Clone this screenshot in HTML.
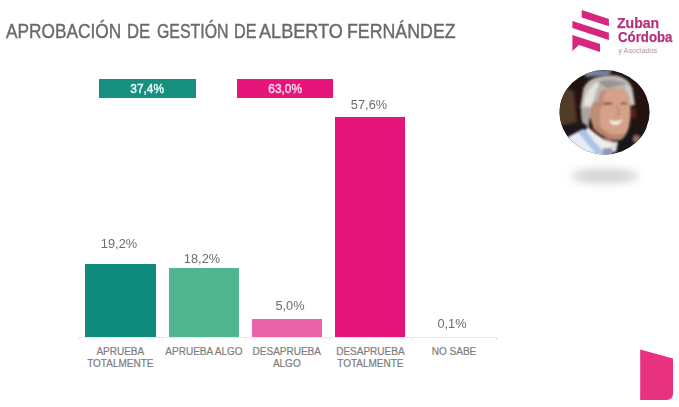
<!DOCTYPE html>
<html><head><meta charset="utf-8">
<style>
html,body{margin:0;padding:0;background:#fff;}
body{width:679px;height:407px;position:relative;overflow:hidden;font-family:"Liberation Sans",sans-serif;}
.abs{position:absolute;}
.bar{position:absolute;}
.val{position:absolute;width:80px;margin-left:-40px;text-align:center;font-size:13.2px;color:#6c6c6c;line-height:14px;margin-top:1px;transform:scaleX(0.97);}
.cat{position:absolute;width:100px;margin-left:-50px;text-align:center;font-size:10px;color:#7d7d7d;line-height:12px;top:346.4px;-webkit-text-stroke:0.2px #7d7d7d;}
.leg{position:absolute;height:19px;top:79px;font-size:12.8px;line-height:19.6px;text-align:center;-webkit-text-stroke:0.45px currentColor;}
.lt{font-size:15.4px;line-height:14px;font-weight:bold;color:#b5317e;-webkit-text-stroke:0.25px #b5317e;white-space:nowrap;transform-origin:0 0;}
.tw{top:20.4px;font-size:19.5px;color:#6a6a6a;white-space:nowrap;line-height:22px;transform-origin:0 0;-webkit-text-stroke:0.4px #6a6a6a;}
.ls{display:inline-block;transform:scaleX(0.93);position:relative;top:-0.4px;}
</style></head><body>
<div class="abs tw" style="left:6.2px;transform:scaleX(0.8853);">APROBACIÓN</div>
<div class="abs tw" style="left:127.29px;transform:scaleX(0.8567);">DE</div>
<div class="abs tw" style="left:157.05px;transform:scaleX(0.8152);">GESTIÓN</div>
<div class="abs tw" style="left:234.03px;transform:scaleX(0.8324);">DE</div>
<div class="abs tw" style="left:259.0px;transform:scaleX(0.9288);">ALBERTO</div>
<div class="abs tw" style="left:346.71px;transform:scaleX(0.9112);">FERNÁNDEZ</div>

<div class="leg" style="left:99px;width:97px;background:#168f7f;color:#e4fbf6;"><span class="ls">37,4%</span></div>
<div class="leg" style="left:237px;width:95.5px;background:#e5157a;color:#fcd3e8;"><span class="ls">63,0%</span></div>

<div class="bar" style="left:85.3px;top:264px;width:70.3px;height:73.5px;background:#0e8b7c;"></div>
<div class="bar" style="left:169px;top:268.4px;width:70.2px;height:69.1px;background:#52b591;"></div>
<div class="bar" style="left:252px;top:318.7px;width:70.2px;height:18.8px;background:#ea62a8;"></div>
<div class="bar" style="left:335.3px;top:117.2px;width:70px;height:220.3px;background:#e6157b;"></div>
<div class="bar" style="left:418.6px;top:336.8px;width:70.7px;height:1.5px;background:#cdcdcd;"></div>

<div class="abs" style="left:78px;top:337px;width:419px;height:1px;background:#e9e9e9;"></div>
<div class="abs" style="left:78px;top:337px;width:1px;height:3px;background:#e4e4e4;"></div>
<div class="abs" style="left:162px;top:337px;width:1px;height:3px;background:#e4e4e4;"></div>
<div class="abs" style="left:245px;top:337px;width:1px;height:3px;background:#e4e4e4;"></div>
<div class="abs" style="left:329px;top:337px;width:1px;height:3px;background:#e4e4e4;"></div>
<div class="abs" style="left:412px;top:337px;width:1px;height:3px;background:#e4e4e4;"></div>
<div class="abs" style="left:496px;top:337px;width:1px;height:3px;background:#e4e4e4;"></div>

<div class="val" style="left:119.2px;top:236px;">19,2%</div>
<div class="val" style="left:201.8px;top:250.6px;">18,2%</div>
<div class="val" style="left:289.7px;top:297.6px;">5,0%</div>
<div class="val" style="left:368.7px;top:97px;">57,6%</div>
<div class="val" style="left:452px;top:315.5px;">0,1%</div>

<div class="cat" style="left:120.3px;">APRUEBA<br>TOTALMENTE</div>
<div class="cat" style="left:204px;">APRUEBA ALGO</div>
<div class="cat" style="left:286.8px;">DESAPRUEBA<br>ALGO</div>
<div class="cat" style="left:370.4px;">DESAPRUEBA<br>TOTALMENTE</div>
<div class="cat" style="left:454px;">NO SABE</div>

<svg class="abs" style="left:0;top:0" width="679" height="407" viewBox="0 0 679 407">
  <defs>
    <filter id="b1" x="-50%" y="-100%" width="200%" height="300%"><feGaussianBlur stdDeviation="4"/></filter>
    <filter id="b2" x="-50%" y="-50%" width="200%" height="200%"><feGaussianBlur stdDeviation="1.8"/></filter>
    <filter id="b3" x="-50%" y="-50%" width="200%" height="200%"><feGaussianBlur stdDeviation="0.9"/></filter>
    <clipPath id="cp"><ellipse cx="604.6" cy="112.2" rx="45" ry="42.2"/></clipPath>
  </defs>
  <!-- logo -->
  <g fill="#d6267f">
    <polygon points="581.7,10 608.9,18.9 608.9,26.2 581.7,17.4"/>
    <polygon points="572.4,21.1 608.9,32.7 608.9,40.1 572.4,28"/>
    <polygon points="572.4,34.9 600,43.9 600,51.9 579,45 572.4,50.9"/>
  </g>
  <!-- corner shape -->
  <path d="M640.2,349.6 L673,358.5 L673,393.5 Q673,400 666.5,400 L640.2,400 Z" fill="#e8317f"/>
  <!-- shadow -->
  <ellipse cx="605" cy="176" rx="34" ry="7.5" fill="#d4d4d4" filter="url(#b1)"/>
  <!-- photo -->
  <g clip-path="url(#cp)">
    <rect x="555" y="65" width="100" height="100" fill="#23130f"/>
    <g filter="url(#b2)">
      <!-- other person's brown hair -->
      <path d="M556,95 Q566,84 574,92 L577,122 L558,126 Z" fill="#533a2b"/>
      <!-- top bluish strip -->
      <path d="M582,70 L612,70 L609,75.5 L586,77 Z" fill="#7886a3"/>
      <!-- dark suit left -->
      <path d="M558,126 L588,122 L590,134 L565,140 Z" fill="#1d191b"/>
      <!-- dark suit right -->
      <path d="M616,140 Q632,128 648,128 L660,165 L610,165 Z" fill="#17151a"/>
      <!-- red thing -->
      <rect x="631" y="108" width="5" height="10" fill="#5a1a1c"/>
      <!-- small skin blob right -->
      <ellipse cx="636.5" cy="139" rx="3" ry="3.5" fill="#a87862"/>
    </g>
    <g filter="url(#b3)">
      <!-- hair -->
      <path d="M580.5,106 L583.5,88 Q588,79.5 596,77.5 Q606,74.5 617,75.5 Q628,78 632.5,88 L635,105 L630.5,106 L628.5,96 L624,90 L612,88 L601,91 L598,101 L592,104.5 L590,113 L588.5,127 L582,122 Z" fill="#bdb8b4"/>
      <path d="M584,102 Q587,86 600,81 Q595,92 592.5,104 L588.5,116 L584,118 Z" fill="#e4e1de"/>
      <path d="M598,82 Q611,77 627,84 Q619,85 607,88.5 Z" fill="#999490"/>
      <path d="M627,84 Q632,92 633.5,104 L630.5,104 Q630,94 625,88 Z" fill="#d2cecb"/>
      <path d="M581,108 L589,106 L590,114 L588.5,127 L582,122 Z" fill="#a9a5a1"/>
      <!-- face -->
      <path d="M600.5,91 Q606,88 613,88 Q622,88 626,91 Q630,97 630.5,105 Q631.5,116 629,127 Q626,137 621,139.5 Q615,141 610,139 Q600,135.5 593.5,128.5 L589.5,114 Q589,108 592,105 L597.5,101.5 Z" fill="#d6a189"/>
      <path d="M600.5,91 L597.5,101.5 L592,105 Q589,108 589.5,114 L593.5,128.5 L601,131 Q598,112 603,100 Q604,94 607,90 Z" fill="#be8e77"/>
      <!-- cheek / jaw shading -->
      <path d="M593.5,128.5 Q600,135.5 610,139 Q615,141 621,139.5 Q625,137 627.5,131 Q620,136 612,134.5 Q603,131 597,124 Z" fill="#b9846c"/>
      <path d="M599,104 Q604,100 610,103 Q604,104 600,108 Z" fill="#b98770"/>
      <!-- neck shadow -->
      <path d="M602,134 L612,140.5 L618,142 L617,144.5 L606,140.5 Z" fill="#9a6b58"/>
      <!-- sash white -->
      <path d="M566,138 L583,129 L606,156 L585,158 Z" fill="#e6ebf5"/>
      <!-- sash blue -->
      <path d="M578,132.5 L588,128 L604,152 L598,156 Z" fill="#a9c3ea"/>
      <!-- collar -->
      <path d="M587.5,126.5 Q595,134 606,140.5 L616.5,143.5 L613,150 L603.5,151.5 Q594,142 587,132 Z" fill="#efebeb"/>
      <path d="M612,143 L618,142 L616,152 L611,152 Z" fill="#e2dede"/>
      <!-- tie -->
      <path d="M603.5,148 L612,148 L613,155 L602,155 Z" fill="#8e9bb6"/>
      <!-- teeth -->
      <path d="M609,120 Q616,122.5 622.5,119.5 Q620,125.5 614,125 Q610.5,124.5 609,120 Z" fill="#f4ebe6"/>
      <!-- eyes/brows -->
      <path d="M604.5,104.5 Q608,102.5 612.5,104" stroke="#5b4034" stroke-width="1.6" fill="none"/>
      <path d="M620.5,104 Q623.5,102.5 627,104" stroke="#5b4034" stroke-width="1.6" fill="none"/>
      <!-- nose shadow -->
      <path d="M617,106 L619.5,114 L615,115.5" stroke="#b78069" stroke-width="1.2" fill="none"/>
    </g>
  </g>
</svg>

<div class="abs lt" style="left:617px;top:15.8px;transform:scaleX(0.913);">Zuban</div>
<div class="abs lt" style="left:617.6px;top:29.6px;transform:scaleX(0.861);">Córdoba</div>
<div class="abs" style="left:618.3px;top:46.5px;font-size:7.3px;line-height:8px;color:#a99aa6;white-space:nowrap;">y Asociados</div>
</body></html>
